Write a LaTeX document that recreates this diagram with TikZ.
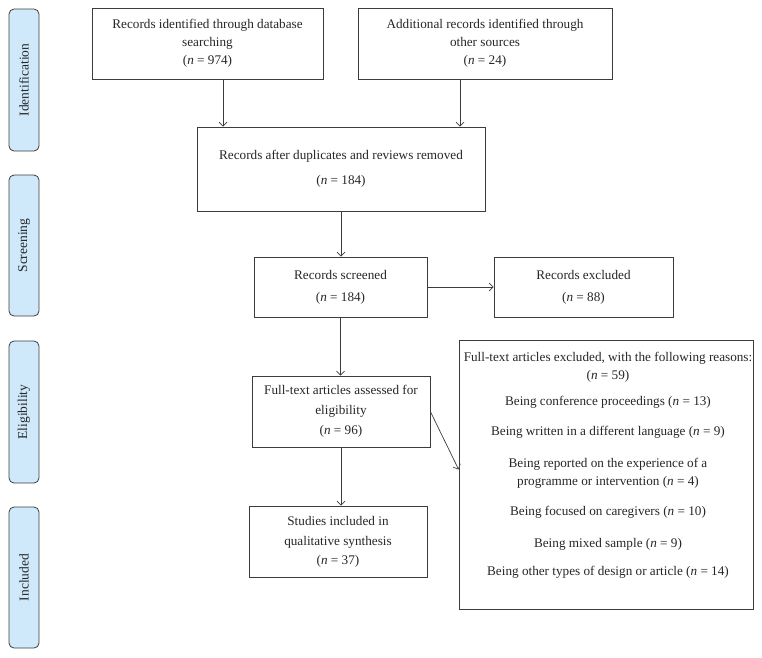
\documentclass[tikz,border=0pt]{standalone}
\usepackage{fontspec}
\setmainfont{Liberation Serif}
\usetikzlibrary{arrows.meta,calc}
\definecolor{linec}{HTML}{3C3C3C}
\definecolor{sidefill}{HTML}{CFE9FB}
\newcommand{\nn}{\textit{n}}
\tikzset{
  box/.style={draw=linec, line width=0.7pt, align=center, inner sep=0pt,
    font=\fontsize{13.2}{18}\selectfont, text=black!85},
  side/.style={draw=linec, line width=0.8pt, fill=sidefill, rounded corners=5pt,
    inner sep=0pt, font=\fontsize{13.5}{15}\selectfont, text=black!85, rotate=90,
    minimum height=30pt},
  arr/.style={draw=linec, line width=0.7pt, -{Straight Barb[length=4pt,width=8pt]}}
}
\begin{document}
\begin{tikzpicture}[x=1pt,y=-1pt]
\useasboundingbox (0,0) rectangle (762,657);
% side labels
\node[side, minimum width=142pt] (s1) at (24,80) {Identification};
\node[side, minimum width=141pt] (s2) at (24,245.5) {Screening};
\node[side, minimum width=142pt] (s3) at (24,412) {Eligibility};
\node[side, minimum width=141pt] (s4) at (24,577.5) {Included};
% boxes
\node[box, minimum width=231pt, minimum height=71pt] (b1) at (207.5,43.5)
  {Records identified through database\\searching\\(\nn{} = 974)};
\node[box, minimum width=254pt, minimum height=71pt] (b2) at (485,43.5)
  {Additional records identified through\\other sources\\(\nn{} = 24)};
\node[box, minimum width=288pt, minimum height=84pt] (b3) at (341,169)
  {Records after duplicates and reviews removed\\[7pt](\nn{} = 184)};
\node[box, minimum width=173pt, minimum height=60pt] (b4) at (340.5,287)
  {Records screened\\[4pt](\nn{} = 184)};
\node[box, minimum width=179pt, minimum height=60pt] (ex) at (583.5,287)
  {Records excluded\\[4pt](\nn{} = 88)};
\node[box, minimum width=178pt, minimum height=71pt] (b5) at (341,411.5)
  {Full-text articles assessed for\\[2pt]eligibility\\[2pt](\nn{} = 96)};
\node[box, minimum width=178pt, minimum height=71pt] (b6) at (338,541.5)
  {Studies included in\\[2pt]qualitative synthesis\\[1pt](\nn{} = 37)};
\node[box, minimum width=294pt, minimum height=269pt] (big) at (606,474.5) {};
\node[box, draw=none, anchor=north] (bigtxt) at ($(big.north)+(2,12)$)
  {Full-text articles excluded, with the following reasons:\\
   (\nn{} = 59)\\[8pt]
   Being conference proceedings (\nn{} = 13)\\[12pt]
   Being written in a different language (\nn{} = 9)\\[14pt]
   Being reported on the experience of a\\
   programme or intervention (\nn{} = 4)\\[12pt]
   Being focused on caregivers (\nn{} = 10)\\[14pt]
   Being mixed sample (\nn{} = 9)\\[10pt]
   Being other types of design or article (\nn{} = 14)};
% connectors
\draw[arr] (b1.south) ++(15.5,0) coordinate (a1) -- (a1 |- b3.north);
\draw[arr] (b2.south) ++(-25,0) coordinate (a2) -- (a2 |- b3.north);
\draw[arr] (b3.south) -- (b3.south |- b4.north);
\draw[arr] (b4.east) -- (ex.west);
\draw[arr] (b4.south) -- (b4.south |- b5.north);
\draw[arr] (b5.south) -- (b5.south |- b6.north);
\draw[arr] (b5.east) -- ($(big.west)+(0,-5)$);
\end{tikzpicture}
\end{document}
